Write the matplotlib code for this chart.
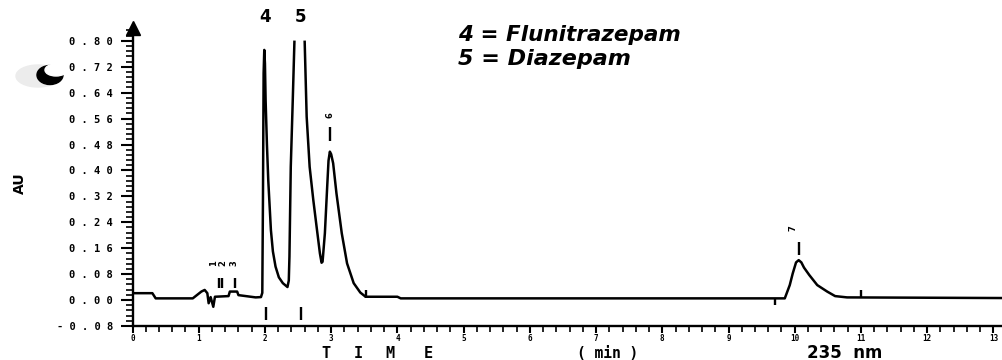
import numpy as np
import matplotlib
matplotlib.use("Agg")
import matplotlib.pyplot as plt
from matplotlib.ticker import FixedLocator, AutoMinorLocator, FuncFormatter
from matplotlib.patches import Ellipse
from matplotlib.transforms import IdentityTransform

# ---- data (time in min, absorbance in AU) ----
time_min = [0.00, 0.30, 0.35, 0.91, 1.04, 1.09, 1.13, 1.15, 1.18, 1.22, 1.245,
            1.45, 1.47, 1.58, 1.60, 1.86, 1.94,
            1.96, 1.97, 1.98, 1.99, 2.00, 2.01, 2.03, 2.05, 2.09, 2.12, 2.16, 2.21, 2.27, 2.34,
            2.36, 2.37, 2.39, 2.42, 2.445, 2.52, 2.60, 2.63, 2.675, 2.73, 2.78, 2.83, 2.855, 2.87,
            2.905, 2.94, 2.96, 2.98, 3.00, 3.03, 3.08, 3.16, 3.24, 3.34, 3.44, 3.52, 4.00, 4.05,
            9.85, 9.925, 9.97, 10.02, 10.06, 10.10, 10.14, 10.22, 10.34, 10.49, 10.61, 10.79, 13.15]
absorbance = [0.021, 0.021, 0.005, 0.005, 0.026, 0.031, 0.021, -0.010, 0.009, -0.021, 0.010,
              0.012, 0.026, 0.026, 0.015, 0.008, 0.009,
              0.022, 0.310, 0.700, 0.772, 0.730, 0.617, 0.480, 0.370, 0.216, 0.150, 0.103, 0.070, 0.052, 0.040,
              0.060, 0.134, 0.411, 0.617, 0.797, np.nan, 0.797, 0.566, 0.411, 0.309, 0.226, 0.144, 0.115, 0.118,
              0.206, 0.350, 0.430, 0.458, 0.450, 0.422, 0.329, 0.206, 0.113, 0.052, 0.023, 0.010, 0.010, 0.005,
              0.005, 0.046, 0.082, 0.116, 0.123, 0.116, 0.100, 0.077, 0.046, 0.026, 0.012, 0.008, 0.006]

y_ticks = [-0.08, 0.00, 0.08, 0.16, 0.24, 0.32, 0.40, 0.48, 0.56, 0.64, 0.72, 0.80]
x_ticks = [0, 1, 2, 3, 4, 5, 6, 7, 8, 9, 10, 11, 12, 13]

peak_ids = ["1", "2", "3", "4", "5", "6", "7"]
peak_label_t = [1.23, 1.37, 1.53, 2.00, 2.54, 2.98, 9.98]
peak_label_au = [0.114, 0.114, 0.114, 0.875, 0.875, 0.571, 0.222]

mark_t = [1.30, 1.35, 1.55, 2.98, 10.06, 2.01, 2.55, 3.53, 9.70, 11.00]
mark_lo = [0.037, 0.037, 0.037, 0.490, 0.140, -0.062, -0.062, 0.006, -0.016, 0.006]
mark_hi = [0.068, 0.068, 0.068, 0.535, 0.180, -0.021, -0.021, 0.031, 0.006, 0.031]

legend_lines = ["4 = Flunitrazepam", "5 = Diazepam"]

# ---- figure ----
W, H = 1002, 360
fig = plt.figure(figsize=(W / 100, H / 100), dpi=100)
ax = fig.add_axes([132.5 / W, (H - 325.9) / H, (W - 132.5) / W, 298 / H])

ax.plot(time_min, absorbance, color="black", lw=1.8, solid_joinstyle="round")
ax.vlines(mark_t, mark_lo, mark_hi, color="black", lw=1.7)

ax.set_xlim(0, 13.13)
ax.set_ylim(-0.08, 0.84)

for s in ["top", "right"]:
    ax.spines[s].set_visible(False)
for s in ["left", "bottom"]:
    ax.spines[s].set_linewidth(1.7)

ax.yaxis.set_major_locator(FixedLocator(y_ticks))
ax.yaxis.set_minor_locator(AutoMinorLocator(5))
ax.xaxis.set_major_locator(FixedLocator(x_ticks))
ax.xaxis.set_minor_locator(AutoMinorLocator(5))
ax.yaxis.set_major_formatter(FuncFormatter(lambda v, p: " ".join(f"{v:.2f}")))
ax.tick_params(axis="y", which="major", length=9, width=1.5, pad=5,
               labelsize=7.5, direction="out")
ax.tick_params(axis="y", which="minor", length=5, width=1.2, direction="out")
ax.tick_params(axis="x", which="major", length=5, width=1.5, pad=1,
               labelsize=5.5, direction="out")
ax.tick_params(axis="x", which="minor", length=4, width=1.2, direction="out")
for lab in ax.get_yticklabels() + ax.get_xticklabels():
    lab.set_fontfamily("DejaVu Sans Mono")
    lab.set_fontweight("bold")

# arrow head on y axis
ax.plot([0], [1], marker="^", markersize=10, color="black",
        transform=ax.transAxes, clip_on=False)

# peak labels
for pid, t, a in zip(peak_ids, peak_label_t, peak_label_au):
    if pid in ("4", "5"):
        ax.text(t, a, pid, ha="center", va="center", fontsize=12,
                fontweight="bold", clip_on=False)
    else:
        ax.text(t, a, pid, ha="center", va="center", fontsize=6,
                fontweight="bold", rotation=90)

# handwritten legend
fig.text(458 / W, (H - 35) / H, legend_lines[0], fontsize=15.5, fontstyle="italic",
         fontweight="bold", ha="left", va="center")
fig.text(458 / W, (H - 59) / H, legend_lines[1], fontsize=16, fontstyle="italic",
         fontweight="bold", ha="left", va="center")

# axis titles
fig.text(20 / W, (H - 183) / H, "AU", rotation=90, fontsize=10, fontweight="bold",
         ha="center", va="center")
for ch, xp in zip(["T", "I", "M", "E"], [326, 358, 390, 428]):
    fig.text(xp / W, (H - 353) / H, ch, fontsize=11, fontweight="bold",
             family="DejaVu Sans Mono", ha="center", va="center")
fig.text(608 / W, (H - 353) / H, "( min )", fontsize=10.5, fontweight="bold",
         family="DejaVu Sans Mono", ha="center", va="center")
fig.text(845 / W, (H - 353) / H, "235  nm", fontsize=12, fontweight="bold",
         ha="center", va="center")

# scanner blemish (dark crescent)
fig.add_artist(Ellipse((38, H - 76), 44, 22, color="#ececec", transform=IdentityTransform()))
fig.add_artist(Ellipse((50, H - 75), 26, 19, color="black", transform=IdentityTransform()))
fig.add_artist(Ellipse((56, H - 70), 22, 12, color="white", transform=IdentityTransform()))

fig.savefig("out.png", dpi=100)
